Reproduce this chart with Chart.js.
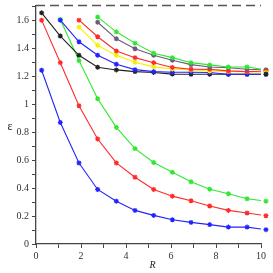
<!DOCTYPE html>
<html>
<head>
<meta charset="utf-8">
<script src="https://cdn.jsdelivr.net/npm/chart.js"></script>
<style>
  html, body { margin: 0; padding: 0; background: #fff; }
  #box { width: 273px; height: 273px; }
</style>
</head>
<body>
<div id="box"><canvas id="epsChart"></canvas></div>
<script>
// R-Werte an denen die Kurven abgetastet sind (letzter Wert liegt rechts ausserhalb der Achse)
let rValues = [0.25, 1.08, 1.91, 2.74, 3.57, 4.40, 5.23, 6.06, 6.89, 7.72, 8.55, 9.38, 10.22];

// untere Kurvenschar
let blueLow  = [1.246, 0.871, 0.581, 0.391, 0.307, 0.241, 0.205, 0.174, 0.155, 0.139, 0.121, 0.121, 0.103]; // ab rValues[0]
let redLow   = [1.605, 1.300, 0.991, 0.753, 0.581, 0.479, 0.391, 0.343, 0.310, 0.272, 0.241, 0.222, 0.203]; // ab rValues[0]
let greenLow = [1.610, 1.315, 1.041, 0.836, 0.684, 0.584, 0.514, 0.446, 0.393, 0.360, 0.324, 0.307];        // ab rValues[1]

// obere Kurvenschar
let blackUp  = [1.657, 1.491, 1.353, 1.267, 1.248, 1.236, 1.230, 1.218, 1.217, 1.217, 1.217, 1.217, 1.217]; // ab rValues[0]
let blueUp   = [1.605, 1.450, 1.353, 1.289, 1.250, 1.236, 1.231, 1.231, 1.229, 1.217, 1.217, 1.217];        // ab rValues[1]
let yellowUp = [1.555, 1.424, 1.353, 1.303, 1.270, 1.255, 1.248, 1.240, 1.236, 1.236, 1.229];               // ab rValues[2]
let redUp    = [1.605, 1.486, 1.384, 1.336, 1.300, 1.266, 1.253, 1.252, 1.241, 1.236, 1.240];               // ab rValues[2]
let purpleUp = [1.590, 1.471, 1.400, 1.353, 1.317, 1.286, 1.269, 1.264, 1.253, 1.248];                      // ab rValues[3]
let greenUp  = [1.627, 1.521, 1.440, 1.368, 1.336, 1.300, 1.284, 1.269, 1.269, 1.248];                      // ab rValues[3]

let xTicks = [0, 2, 4, 6, 8, 10];
let yTicks = [0, 0.2, 0.4, 0.6, 0.8, 1, 1.2, 1.4, 1.6];
let topLine = 1.71; // gestrichelte Linie oben

// Reihenfolge = Zeichenreihenfolge (spätere liegen oben)
let series = [
  { values: greenUp,  start: 3, color: '#2fe82f' },
  { values: purpleUp, start: 3, color: '#6b5a7a' },
  { values: redUp,    start: 2, color: '#ff2a2a' },
  { values: yellowUp, start: 2, color: '#f2f200' },
  { values: blueUp,   start: 1, color: '#2323ff' },
  { values: blackUp,  start: 0, color: '#222222' },
  { values: greenLow, start: 1, color: '#2fe82f' },
  { values: redLow,   start: 0, color: '#ff2a2a' },
  { values: blueLow,  start: 0, color: '#2323ff' },
];


function toPoints(values, start) {
  return values.map((v, i) => ({ x: rValues[start + i], y: v }));
}


function buildDatasets() {
  let sets = [];
  sets.push({ // gestrichelte Linie ganz oben
    data: [{ x: xTicks[0], y: topLine }, { x: xTicks[xTicks.length - 1], y: topLine }],
    showLine: true, borderColor: '#555', borderWidth: 1.4, borderDash: [9, 5],
    pointRadius: 0, clip: false
  });
  series.forEach(s => {
    let last = s.values.length - 1;
    sets.push({
      data: toPoints(s.values, s.start),
      showLine: true, borderColor: s.color, backgroundColor: s.color, borderWidth: 1.1,
      pointStyle: 'star', pointBorderWidth: 1.2,
      pointRadius: c => c.dataIndex === last ? 0 : 2.5,
      clip: 0
    });
  });
  // einzelne Marker rechts neben der Achse
  sets.push({
    data: series.map(s => ({ x: rValues[s.start + s.values.length - 1], y: s.values[s.values.length - 1] })),
    showLine: false, pointStyle: 'star', pointRadius: 2.5, pointBorderWidth: 1.2,
    pointBorderColor: series.map(s => s.color), pointBackgroundColor: series.map(s => s.color),
    clip: false
  });
  return sets;
}


// Achsenbeschriftungen (epsilon waagerecht, R kursiv)
const axisTitles = {
  id: 'axisTitles',
  afterDraw(chart) {
    const c = chart.ctx;
    const a = chart.chartArea;
    c.save();
    c.fillStyle = '#222';
    c.textAlign = 'center';
    c.textBaseline = 'middle';
    c.font = '12px "Liberation Serif"';
    c.fillText('ε', 10, (a.top + a.bottom) / 2 + 2);
    c.font = 'italic 10px "Liberation Serif"';
    c.fillText('R', (a.left + a.right) / 2 + 4, 265);
    c.restore();
  }
};

const tickFont = { family: '"Liberation Serif"', size: 10 };

new Chart(document.getElementById('epsChart'), {
  type: 'scatter',
  data: { datasets: buildDatasets() },
  plugins: [axisTitles],
  options: {
    responsive: true,
    maintainAspectRatio: false,
    animation: false,
    layout: { padding: { top: 0, right: 12, left: 0, bottom: 0 } },
    plugins: {
      legend: { display: false },
      tooltip: { enabled: false }
    },
    scales: {
      x: {
        type: 'linear',
        // Grenzen erst nach dem Datenlimit setzen, damit die Marker bei 10.22 noch gezeichnet werden
        afterDataLimits: scale => { scale.min = xTicks[0]; scale.max = xTicks[xTicks.length - 1]; },
        ticks: {
          stepSize: 1, autoSkip: false, maxRotation: 0, padding: 2,
          font: tickFont, color: '#333',
          callback: v => xTicks.includes(v) ? String(v) : ''
        },
        grid: { drawOnChartArea: false, tickLength: 4, color: '#444' },
        border: { color: '#444', width: 1.3 },
        afterFit: scale => { scale.height = 29; }
      },
      y: {
        type: 'linear', min: 0, max: 1.712,
        ticks: {
          stepSize: 0.1, autoSkip: false, includeBounds: false, padding: 3,
          font: tickFont, color: '#333',
          callback: v => {
            let r = Math.round(v * 10) / 10;
            return yTicks.includes(r) ? String(r) : '';
          }
        },
        grid: { drawOnChartArea: false, tickLength: 4, color: '#444' },
        border: { color: '#444', width: 1.3 },
        afterFit: scale => { scale.width = 36; scale.paddingTop = 4; }
      }
    }
  }
});
</script>
</body>
</html>
